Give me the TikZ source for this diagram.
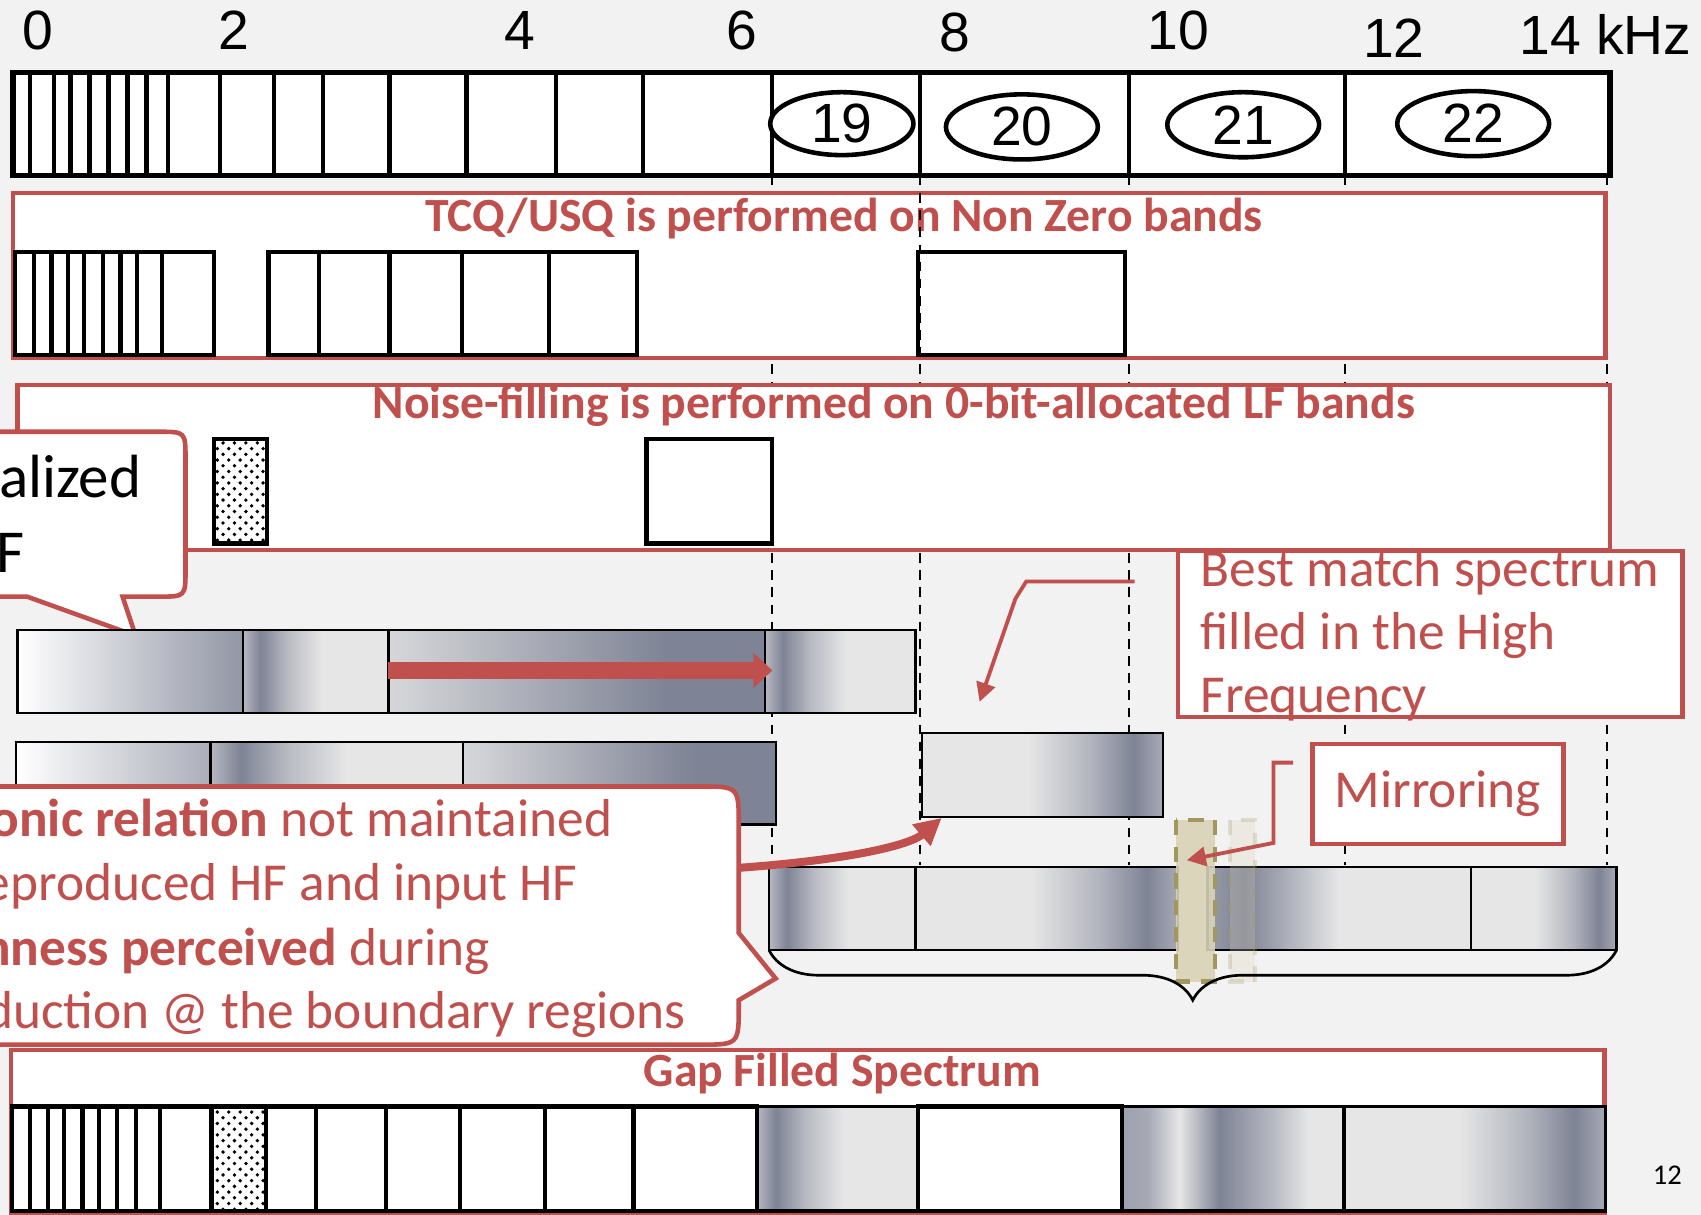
\documentclass[tikz,border=0pt]{standalone}
\usepackage{fontspec}
\setmainfont{Carlito}
\newfontfamily\axisfont{Liberation Sans}
\usepackage{tikz}
\usetikzlibrary{arrows.meta, positioning, calc, shapes.geometric, decorations.pathreplacing, patterns}
\usepackage{xcolor}
\definecolor{slidered}{RGB}{192,80,77}
\definecolor{slidebg}{RGB}{242,242,242}
\definecolor{banddark}{RGB}{126,131,149}
\definecolor{bandlight}{RGB}{230,230,230}
\definecolor{tanfill}{RGB}{216,210,182}
\definecolor{tanline}{RGB}{160,152,96}

% spectrum shadings (path box = 25bp..75bp)
\pgfdeclarehorizontalshading{fallA}{100bp}{color(0bp)=(white); color(25bp)=(white); color(75bp)=(banddark!85!white); color(100bp)=(banddark!85!white)}
\pgfdeclarehorizontalshading{fallB}{100bp}{color(0bp)=(white); color(25bp)=(white); color(75bp)=(banddark!65!white); color(100bp)=(banddark!65!white)}
\pgfdeclarehorizontalshading{stripe}{100bp}{color(0bp)=(banddark!45!bandlight); color(25bp)=(banddark!45!bandlight); color(31bp)=(banddark); color(40bp)=(banddark!45!bandlight); color(52bp)=(bandlight); color(75bp)=(bandlight); color(100bp)=(bandlight)}
\pgfdeclarehorizontalshading{ramp}{100bp}{color(0bp)=(banddark!15!bandlight); color(25bp)=(banddark!15!bandlight); color(62bp)=(banddark); color(75bp)=(banddark); color(100bp)=(banddark)}
\pgfdeclarehorizontalshading{peak}{100bp}{color(0bp)=(bandlight); color(25bp)=(bandlight); color(47bp)=(bandlight); color(60bp)=(banddark!50!bandlight); color(69bp)=(banddark); color(75bp)=(banddark!60!bandlight); color(100bp)=(banddark!60!bandlight)}
\pgfdeclarehorizontalshading{darkleft}{100bp}{color(0bp)=(banddark!75!bandlight); color(25bp)=(banddark!75!bandlight); color(32bp)=(banddark); color(50bp)=(bandlight); color(75bp)=(bandlight); color(100bp)=(bandlight)}
\pgfdeclarehorizontalshading{multi}{100bp}{color(0bp)=(banddark!70!bandlight); color(25bp)=(banddark!70!bandlight); color(31bp)=(banddark!60!bandlight); color(38bp)=(bandlight); color(47bp)=(banddark); color(59bp)=(banddark!45!bandlight); color(67bp)=(bandlight); color(75bp)=(bandlight); color(100bp)=(bandlight)}

\tikzset{
  band/.style={draw=black, line width=1.1pt, fill=white},
  hfband/.style={draw=black, line width=0.6pt, shade, shading=#1},
  redbox/.style={draw=slidered, line width=1.2pt, fill=white},
  guide/.style={black, line width=0.5pt, dash pattern=on 2.5pt off 2pt},
  bandno/.style={ellipse, draw, line width=1.2pt, fill=white, inner sep=0pt,
    font=\axisfont\fontsize{14.5}{16}\selectfont},
  heading/.style={text=slidered, font=\fontsize{12.5}{15}\selectfont\bfseries, inner sep=0pt, anchor=base},
  redtext/.style={text=slidered, font=\fontsize{14}{17}\selectfont, inner sep=0pt},
  redarrow/.style={slidered, line width=1pt, -{Triangle[length=5pt, width=5pt]}},
  highlight/.style={tanline, line width=1.2pt, dash pattern=on 4pt off 3pt, fill=tanfill},
}

\begin{document}
\begin{tikzpicture}[x=0.1mm, y=-0.1mm]
  \useasboundingbox (0,0) rectangle (1568,1120);
  \fill[slidebg] (0,0) rectangle (1568,1120);

  % frequency axis
  \foreach \f/\x/\y [count=\i] in {0/35/28, 2/216/28, 4/479/28, 6/684/28, 8/880/30, 10/1086/28, 12/1285/35, 14 kHz/1480/32}
    \node[font=\axisfont\fontsize{14.5}{16}\selectfont, inner sep=0pt] (tick\i) at (\x,\y) {\f};

  % band guides
  \foreach \x in {712,848,1041,1240,1481}
    \draw[guide] (\x,162) -- (\x,797);

  % band layout
  \draw[line width=1.4pt, fill=white] (12,67) rectangle (1484,162);
  \foreach \x in {27.5,50,65,82.5,100,117.5,135,155,202.5,252.5,297.5,359,430,512.5,592.5,712,848,1041,1240}
    \draw[line width=1.1pt] (\x,67) -- (\x,162);
  \node[bandno, minimum width=1.32cm, minimum height=0.58cm] (b19) at (776,114) {19};
  \node[bandno, minimum width=1.40cm, minimum height=0.60cm] (b20) at (942,117) {20};
  \node[bandno, minimum width=1.40cm, minimum height=0.60cm] (b21) at (1146,115) {21};
  \node[bandno, minimum width=1.40cm, minimum height=0.60cm] (b22) at (1358,114) {22};

  % TCQ/USQ row
  \draw[redbox] (12,178) rectangle (1480,330);
  \node[heading] (tcq) at (778,213.6) {TCQ/USQ is performed on Non Zero bands};
  \foreach \a/\b in {14/31,31/47.5,47.5/62.5,62.5/77.5,77.5/95,95/111,111/126,126/149,149/197.5,247.5/294,294/359,359/426,426/506,506/587.5,846/1037}
    \draw[band] (\a,232) rectangle (\b,327);
  \draw[guide] (848,178) -- (848,330);

  % noise filling row
  \draw[redbox] (16,355) rectangle (1484,507);
  \node[heading] (nf) at (824,385.6) {Noise-filling is performed on 0-bit-allocated LF bands};
  \draw[band] (197,405) rectangle (246,501);
  \fill[pattern=crosshatch dots] (197,405) rectangle (246,501);
  \draw[band] (596,405) rectangle (712,501);

  % LF callout
  \draw[redbox] (-20,398) -- (146,398) .. controls (171,398) .. (171,423) -- (171,525)
    .. controls (171,550) .. (146,550) -- (113,550) -- (125,586) -- (25,550) -- (-20,550) -- cycle;
  \node[font=\fontsize{16}{19}\selectfont, inner sep=0pt, anchor=base east] (lf1) at (131,459) {alized};
  \node[font=\fontsize{16}{19}\selectfont, inner sep=0pt, anchor=base west] (lf2) at (-4,528) {F};

  % LF spectrum
  \draw[hfband=fallA] (16,581) rectangle (224,657);
  \draw[hfband=stripe] (224,581) rectangle (358,657);
  \draw[hfband=ramp] (358,581) rectangle (705,657);
  \draw[hfband=stripe] (705,581) rectangle (844,657);
  \coordinate (a3w) at (358,618);
  \coordinate (a4w) at (712,618);
  \draw[slidered, line width=4.3pt, -{Triangle[length=5pt, width=9pt]}] (a3w) -- (a4w);

  \draw[hfband=fallB] (15,684) rectangle (194,760);
  \draw[hfband=stripe] (194,684) rectangle (426.5,760);
  \draw[hfband=ramp] (426.5,684) rectangle (715,760);
  \draw[hfband=peak] (850,676) rectangle (1072,753);

  % reproduced HF
  \draw[hfband=stripe] (709,799) rectangle (844,876);
  \draw[hfband=peak] (844,799) rectangle (1086,876);
  \draw[hfband=darkleft] (1113,799) rectangle (1356,876);
  \draw[hfband=peak] (1356,799) rectangle (1490,876);
  \draw[highlight, fill opacity=0.9] (1084,756) rectangle (1120,905);
  \draw[highlight, opacity=0.25] (1134,756) rectangle (1157,905);
  \draw[line width=0.7pt, decorate, decoration={brace, mirror, amplitude=0.46cm}] (709,876) -- (1490,876);

  % notes
  \draw[redbox] (1086,508) rectangle (1551,661);
  \foreach \t [count=\i] in {Best match spectrum, filled in the High, Frequency}
    \node[redtext, anchor=base west] (bm\i) at (1106,483+58*\i) {\t};
  \coordinate (bmfoot) at (1046,536);
  \coordinate (bmtip) at (903,647);
  \draw[redarrow] (bmfoot) -- ++(-100,0) -- ++(-10,16) -- (bmtip);

  \node[draw=slidered, line width=1.2pt, fill=white, minimum width=2.31cm, minimum height=0.92cm,
    redtext] (mir) at (1325.5,732) {Mirroring};
  \coordinate (mirfoot) at (1192,703);
  \coordinate (mirtip) at (1094,793);
  \draw[redarrow] (mirfoot) -- ++(-18,0) -- ++(0,74) -- (mirtip);

  % harmonic callout
  \draw[redbox] (-20,725) -- (645,725) .. controls (681,725) .. (681,761) -- (681,860) -- (715,902)
    -- (681,922) -- (681,927) .. controls (681,963) .. (645,963) -- (-20,963) -- cycle;
  \node[redtext, anchor=base east] (h1) at (565,771) {\textbf{onic relation} not maintained};
  \node[redtext, anchor=base east] (h2) at (533,830) {eproduced HF and input HF};
  \node[redtext, anchor=base east] (h3) at (452,890) {\textbf{nness perceived} during};
  \node[redtext, anchor=base east] (h4) at (633,948) {duction @ the boundary regions};
  \coordinate (c2e) at (681,800);
  \coordinate (hfc) at (868,754);
  \draw[slidered, line width=2.1pt, -{Triangle[length=7pt, width=7pt]}] (c2e) .. controls (790,792) and (840,778) .. (hfc);

  % gap filled spectrum
  \draw[redbox] (10,968) rectangle (1479,1118);
  \node[heading] (gap) at (776.5,1001.7) {Gap Filled Spectrum};
  \foreach \a/\b in {11/27.5,27.5/44,44/59,59/76,76/91.5,91.5/107.5,107.5/125,125/147.5,147.5/195,245/291.5,291.5/356,356/424,424/502.5,502.5/584,584/697.5,846/1034}
    \draw[band] (\a,1020) rectangle (\b,1116);
  \draw[band] (195,1020) rectangle (245,1116);
  \fill[pattern=crosshatch dots] (195,1020) rectangle (245,1116);
  \draw[hfband=stripe, line width=1pt] (697.5,1020) rectangle (846,1116);
  \draw[hfband=multi, line width=1pt] (1034,1020) rectangle (1239,1116);
  \draw[hfband=peak, line width=1pt] (1239,1020) rectangle (1480,1116);

  \node[font=\fontsize{7.5}{9}\selectfont, inner sep=0pt, anchor=base] (pageno) at (1537,1092) {12};
\end{tikzpicture}
\end{document}
